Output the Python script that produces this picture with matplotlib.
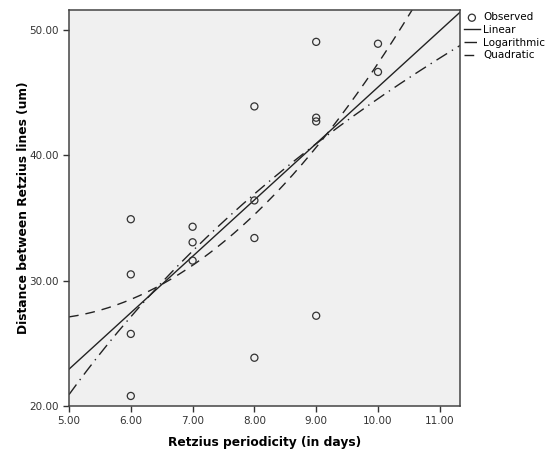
import numpy as np
import matplotlib.pyplot as plt
from matplotlib.ticker import FormatStrFormatter

periodicity = [6, 6, 6, 6, 7, 7, 7, 8, 8, 8, 8, 9, 9, 9, 9, 10, 10]
distance = [34.9, 30.5, 25.75, 20.8, 34.3, 33.06, 31.6,
            43.9, 36.4, 33.4, 23.85, 49.05, 43.0, 42.7, 27.2, 48.9, 46.65]

x = np.array(periodicity, dtype=float)
y = np.array(distance)

# curve fits (SPSS style): linear, logarithmic, quadratic
lin = np.polyfit(x, y, 1)
logc = np.polyfit(np.log(x), y, 1)
quad = np.polyfit(x, y, 2)

xs = np.linspace(5.0, 11.33, 300)

fig = plt.figure(figsize=(5.49, 4.5), dpi=100)
ax = fig.add_axes([0.1257, 0.0978, 0.7125, 0.8802])
ax.set_facecolor("#f0f0f0")

ax.scatter(x, y, s=26, facecolors="none", edgecolors="#333333", linewidths=0.9,
           label="Observed", zorder=3)
ax.plot(xs, np.polyval(lin, xs), color="#222222", lw=1.0, ls="-", label="Linear")
ax.plot(xs, np.polyval(logc, np.log(xs)), color="#222222", lw=1.0,
        ls=(0, (9, 4, 1, 4)), label="Logarithmic")
ax.plot(xs, np.polyval(quad, xs), color="#222222", lw=1.0, ls=(0, (7, 5)),
        label="Quadratic")

ax.set_xlim(5.0, 11.33)
ax.set_ylim(20.0, 51.6)
ax.set_xticks([5, 6, 7, 8, 9, 10, 11])
ax.set_yticks([20, 30, 40, 50])
ax.xaxis.set_major_formatter(FormatStrFormatter("%.2f"))
ax.yaxis.set_major_formatter(FormatStrFormatter("%.2f"))
ax.tick_params(direction="out", length=4, width=1, labelsize=7.5,
               colors="#333333", labelcolor="#333333")
for sp in ax.spines.values():
    sp.set_color("#444444")
    sp.set_linewidth(1.1)

ax.set_xlabel("Retzius periodicity (in days)", fontsize=8.8, fontweight="bold")
ax.set_ylabel("Distance between Retzius lines (um)", fontsize=8.8,
              fontweight="bold")
ax.xaxis.set_label_coords(0.5, -0.076)
ax.yaxis.set_label_coords(-0.10, 0.5)

leg = ax.legend(loc="upper left", bbox_to_anchor=(0.99, 1.012), frameon=False,
                fontsize=7.5, handlelength=1.6, handletextpad=0.3,
                labelspacing=0.25, borderaxespad=0.3)

fig.savefig("out.png", dpi=100)
